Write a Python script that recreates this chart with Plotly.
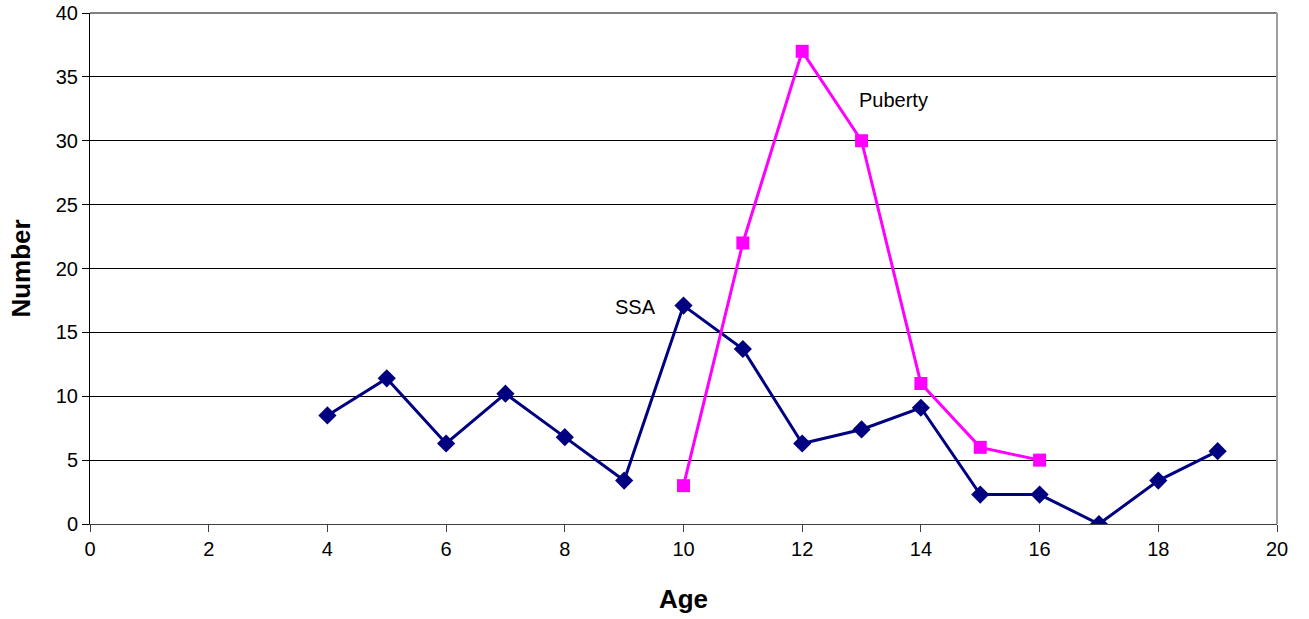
import plotly.graph_objects as go

ssa_age = [4, 5, 6, 7, 8, 9, 10, 11, 12, 13, 14, 15, 16, 17, 18, 19]
ssa_num = [8.5, 11.4, 6.3, 10.2, 6.8, 3.4, 17.1, 13.7, 6.3, 7.4, 9.1, 2.3, 2.3, 0, 3.4, 5.7]
pub_age = [10, 11, 12, 13, 14, 15, 16]
pub_num = [3, 22, 37, 30, 11, 6, 5]

labels = [("SSA", 9.19, 16.95), ("Puberty", 13.54, 33.2)]

FONT = "Liberation Sans, Arial, sans-serif"

fig = go.Figure()
fig.add_trace(go.Scatter(
    x=ssa_age, y=ssa_num, mode="lines+markers", name="SSA",
    line=dict(color="#000080", width=3),
    marker=dict(symbol="diamond", size=14, color="#000080"),
))
fig.add_trace(go.Scatter(
    x=pub_age, y=pub_num, mode="lines+markers", name="Puberty",
    line=dict(color="#FF00FF", width=3),
    marker=dict(symbol="square", size=13, color="#FF00FF"),
))

for text, x, y in labels:
    fig.add_annotation(x=x, y=y, text=text, showarrow=False,
                       font=dict(family=FONT, size=20, color="black"))

fig.update_layout(
    width=1309, height=619,
    margin=dict(l=90, r=32, t=13, b=95),
    plot_bgcolor="white", paper_bgcolor="white",
    showlegend=False,
    font=dict(family=FONT, size=20, color="black"),
    xaxis=dict(
        range=[0, 20], tickmode="linear", tick0=0, dtick=2,
        showgrid=False, zeroline=False, automargin=False,
        showline=True, linecolor="#404040", linewidth=1,
        ticks="outside", ticklen=7, tickcolor="#404040",
        tickfont=dict(family=FONT, size=20),
        ticklabeloverflow="allow",
        title=dict(text="<b>Age</b>", font=dict(family=FONT, size=26), standoff=30),
    ),
    yaxis=dict(
        range=[0, 40], tickmode="linear", tick0=0, dtick=5,
        showgrid=True, gridcolor="black", gridwidth=1,
        zeroline=False, automargin=False,
        showline=True, linecolor="black", linewidth=1,
        ticks="outside", ticklen=7, tickcolor="black",
        tickfont=dict(family=FONT, size=20),
        ticklabeloverflow="allow",
        title=dict(text="<b>Number</b>", font=dict(family=FONT, size=26), standoff=17),
    ),
)

# gray plot-area border on top and right
fig.add_shape(type="line", xref="paper", yref="paper", x0=0, x1=1, y0=1, y1=1,
              line=dict(color="#808080", width=2), layer="above")
fig.add_shape(type="line", xref="paper", yref="paper", x0=1, x1=1, y0=0, y1=1,
              line=dict(color="#A0A0A0", width=2), layer="above")

fig.write_html("out.html", config={"displayModeBar": False},
               post_script="document.body.style.margin='0';")
